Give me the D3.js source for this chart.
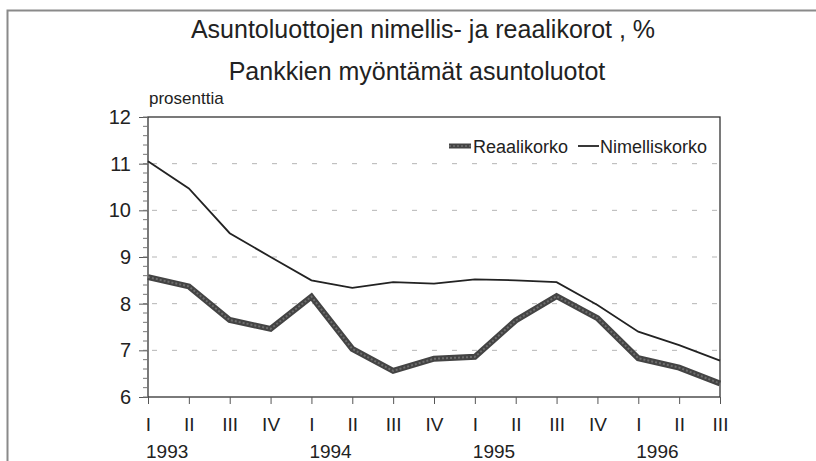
<!DOCTYPE html>
<html>
<head>
<meta charset="utf-8">
<script src="https://cdn.jsdelivr.net/npm/d3@7"></script>
<style>
  body { margin: 0; background: #fff; }
  svg text { font-family: "Liberation Sans", Arial, Helvetica, sans-serif; fill: #222; }
</style>
</head>
<body>
<div id="chart"></div>
<script>
// quarters 1993 I ... 1996 III
var quarter_labels = ['I', 'II', 'III', 'IV', 'I', 'II', 'III', 'IV', 'I', 'II', 'III', 'IV', 'I', 'II', 'III'];
var year_labels = [
    { year: '1993', q: 0 },
    { year: '1994', q: 4 },
    { year: '1995', q: 8 },
    { year: '1996', q: 12 }
];
var nimelliskorko = [11.05, 10.47, 9.51, 9.0, 8.5, 8.34, 8.46, 8.43, 8.52, 8.5, 8.46, 7.97, 7.4, 7.11, 6.78];
var reaalikorko = [8.57, 8.37, 7.65, 7.46, 8.15, 7.03, 6.56, 6.82, 6.86, 7.64, 8.16, 7.69, 6.83, 6.63, 6.29];
var y_ticks = [6, 7, 8, 9, 10, 11, 12];

var width = 816, height = 461;
var plot = { left: 148, right: 720, top: 117, bottom: 397 };

var svg = d3.select('#chart')
    .append('svg')
    .attr('width', width)
    .attr('height', height);

// outer frame (only top and left visible in the scan)
svg.append('path')
    .attr('d', `M7.5,${height} L7.5,10.5 L${width},10.5`)
    .attr('fill', 'none')
    .attr('stroke', '#8a8a8a')
    .attr('stroke-width', 2);

var x = d3.scaleLinear()
    .domain([0, quarter_labels.length - 1])
    .range([plot.left, plot.right]);

var y = d3.scaleLinear()
    .domain([6, 12])
    .range([plot.bottom, plot.top]);

// titles
svg.append('text')
    .attr('x', 423).attr('y', 38)
    .attr('text-anchor', 'middle')
    .style('font-size', '25px')
    .text('Asuntoluottojen nimellis- ja reaalikorot , %');

svg.append('text')
    .attr('x', 417).attr('y', 80)
    .attr('text-anchor', 'middle')
    .style('font-size', '25px')
    .text('Pankkien myöntämät asuntoluotot');

svg.append('text')
    .attr('x', 149).attr('y', 104)
    .style('font-size', '17px')
    .text('prosenttia');

// dashed gridlines
svg.append('g')
    .selectAll('line')
    .data(y_ticks.filter(function(d) { return d > 6 && d < 12; }))
    .enter()
    .append('line')
    .attr('x1', plot.left + 4)
    .attr('x2', plot.right - 2)
    .attr('y1', function(d) { return y(d); })
    .attr('y2', function(d) { return y(d); })
    .attr('stroke', '#b5b5b5')
    .attr('stroke-width', 1)
    .attr('stroke-dasharray', '5,15');

// plot box
svg.append('rect')
    .attr('x', plot.left).attr('y', plot.top)
    .attr('width', plot.right - plot.left)
    .attr('height', plot.bottom - plot.top)
    .attr('fill', 'none')
    .attr('stroke', '#333')
    .attr('stroke-width', 1.3);

// y axis with minor ticks
var y_axis = svg.append('g')
    .attr('transform', `translate(${plot.left},0)`)
    .call(d3.axisLeft(y).tickValues(y_ticks).tickSize(9).tickPadding(8).tickFormat(d3.format('d')));
y_axis.select('.domain').remove();
y_axis.selectAll('.tick line').attr('stroke', '#555');
y_axis.selectAll('.tick text').style('font-size', '20px').attr('fill', '#222');

svg.append('g')
    .selectAll('line')
    .data(d3.range(6, 12.001, 0.2))
    .enter()
    .append('line')
    .attr('x1', plot.left - 5)
    .attr('x2', plot.left)
    .attr('y1', function(d) { return y(d); })
    .attr('y2', function(d) { return y(d); })
    .attr('stroke', '#777')
    .attr('stroke-width', 1);

// x axis ticks and labels
var x_axis = svg.append('g')
    .attr('transform', `translate(0,${plot.bottom})`)
    .call(d3.axisBottom(x).tickValues(d3.range(quarter_labels.length)).tickSize(7).tickPadding(14)
        .tickFormat(function(d) { return quarter_labels[d]; }));
x_axis.select('.domain').remove();
x_axis.selectAll('.tick line').attr('stroke', '#555');
x_axis.selectAll('.tick text').style('font-size', '19px').attr('fill', '#222');

svg.append('g')
    .selectAll('text')
    .data(year_labels)
    .enter()
    .append('text')
    .attr('x', function(d) { return x(d.q) - 2; })
    .attr('y', 458)
    .style('font-size', '19px')
    .text(function(d) { return d.year; });

// lines
var line = d3.line()
    .x(function(d, i) { return x(i); })
    .y(function(d) { return y(d); });

svg.append('path')
    .datum(nimelliskorko)
    .attr('d', line)
    .attr('fill', 'none')
    .attr('stroke', '#222')
    .attr('stroke-width', 1.8);

svg.append('path')
    .datum(reaalikorko)
    .attr('d', line)
    .attr('fill', 'none')
    .attr('stroke', '#444')
    .attr('stroke-width', 6);

svg.append('path')
    .datum(reaalikorko)
    .attr('d', line)
    .attr('fill', 'none')
    .attr('stroke', '#6e6e6e')
    .attr('stroke-width', 2)
    .attr('stroke-dasharray', '2,2');

// legend
var legend = svg.append('g');
legend.append('line')
    .attr('x1', 449).attr('x2', 471).attr('y1', 146).attr('y2', 146)
    .attr('stroke', '#444').attr('stroke-width', 5);
legend.append('line')
    .attr('x1', 449).attr('x2', 471).attr('y1', 146).attr('y2', 146)
    .attr('stroke', '#6e6e6e').attr('stroke-width', 1.5).attr('stroke-dasharray', '2,2');
legend.append('text')
    .attr('x', 473).attr('y', 153)
    .style('font-size', '18px')
    .text('Reaalikorko');
legend.append('line')
    .attr('x1', 578).attr('x2', 599).attr('y1', 146).attr('y2', 146)
    .attr('stroke', '#222').attr('stroke-width', 1.8);
legend.append('text')
    .attr('x', 600).attr('y', 153)
    .style('font-size', '18px')
    .text('Nimelliskorko');
</script>
</body>
</html>
